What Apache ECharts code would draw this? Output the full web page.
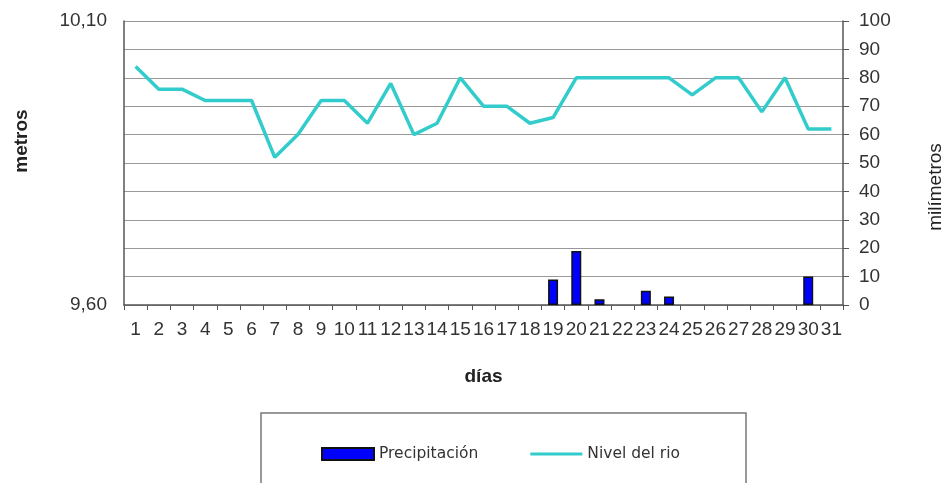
<!DOCTYPE html>
<html>
<head>
<meta charset="utf-8">
<script src="https://cdn.jsdelivr.net/npm/echarts@6/dist/echarts.min.js"></script>
<style>
  html, body { margin: 0; padding: 0; background: #fff; }
  #chart { width: 947px; height: 483px; }
</style>
</head>
<body>
<div id="chart"></div>
<script>
// días del mes
var dias = [];
for (var d = 1; d <= 31; d++) dias.push(String(d));

// nivel del rio (metros)
var nivel = [10.02, 9.98, 9.98, 9.96, 9.96, 9.96, 9.86, 9.90, 9.96, 9.96,
             9.92, 9.99, 9.90, 9.92, 10.00, 9.95, 9.95, 9.92, 9.93, 10.00,
             10.00, 10.00, 10.00, 10.00, 9.97, 10.00, 10.00, 9.94, 10.00, 9.91, 9.91];

// precipitación (milímetros)
var precipitacion = [0, 0, 0, 0, 0, 0, 0, 0, 0, 0,
                     0, 0, 0, 0, 0, 0, 0, 0, 9, 19,
                     2, 0, 5, 3, 0, 0, 0, 0, 0, 10, 0];

var chart = echarts.init(document.getElementById('chart'));

var labelFont = { fontFamily: 'Liberation Sans', fontSize: 19, color: '#333' };

var option = {
    animation: false,
    backgroundColor: '#fff',
    grid: { left: 124, right: 104, top: 21, bottom: 178 },
    legend: {
        left: 316,
        top: 441,
        itemWidth: 52,
        itemHeight: 12,
        itemGap: 52,
        textStyle: { fontFamily: 'DejaVu Sans', fontSize: 15.5, color: '#333' },
        data: [
            { name: 'Precipitación', icon: 'rect' },
            {
                name: 'Nivel del rio',
                // línea sola, sin símbolo
                icon: 'path://M0,0L0,0M0,12L0,12M0,4.5L52,4.5L52,7.5L0,7.5Z',
                itemStyle: { color: '#33cccc', borderWidth: 0 }
            }
        ]
    },
    graphic: [
        {
            type: 'rect',
            shape: { x: 261, y: 413, width: 485, height: 80 },
            style: { fill: 'none', stroke: '#777', lineWidth: 1.5 }
        },
        {
            type: 'text',
            x: 22, y: 141, rotation: Math.PI / 2,
            style: {
                text: 'metros', fontFamily: 'Liberation Sans', fontWeight: 'bold',
                fontSize: 19, fill: '#222', align: 'center', verticalAlign: 'middle'
            }
        },
        {
            type: 'text',
            x: 936, y: 187, rotation: Math.PI / 2,
            style: {
                text: 'milímetros', fontFamily: 'Liberation Sans',
                fontSize: 19, fill: '#222', align: 'center', verticalAlign: 'middle'
            }
        }
    ],
    xAxis: {
        type: 'category',
        data: dias,
        boundaryGap: true,
        name: 'días',
        nameLocation: 'middle',
        nameGap: 62,
        nameTextStyle: { fontFamily: 'Liberation Sans', fontWeight: 'bold', fontSize: 19, color: '#222' },
        axisLine: { lineStyle: { color: '#555', width: 1.5 } },
        axisTick: { show: true, length: 5, lineStyle: { color: '#555' } },
        axisLabel: Object.assign({ interval: 0, margin: 15 }, labelFont)
    },
    yAxis: [
        {
            type: 'value',
            min: 9.6,
            max: 10.1,
            interval: 0.05,
            position: 'left',
            axisLine: { show: true, lineStyle: { color: '#555', width: 1.5 } },
            axisTick: { show: false },
            splitLine: { show: false },
            axisLabel: Object.assign({
                margin: 17,
                formatter: function (v) {
                    if (Math.abs(v - 9.6) < 1e-6 || Math.abs(v - 10.1) < 1e-6) {
                        return v.toFixed(2).replace('.', ',');
                    }
                    return '';
                }
            }, labelFont)
        },
        {
            type: 'value',
            min: 0,
            max: 100,
            interval: 10,
            position: 'right',
            axisLine: { show: true, lineStyle: { color: '#555', width: 1.5 } },
            axisTick: { show: true, length: 6, lineStyle: { color: '#555' } },
            splitLine: { show: true, lineStyle: { color: '#999', width: 1.2 } },
            axisLabel: Object.assign({ margin: 16 }, labelFont)
        }
    ],
    series: [
        {
            name: 'Precipitación',
            type: 'bar',
            yAxisIndex: 1,
            // los días sin lluvia no dibujan barra
            data: precipitacion.map(function (v) { return v === 0 ? '-' : v; }),
            barWidth: 10,
            itemStyle: { color: '#0000ff', borderColor: '#111', borderWidth: 1.5 }
        },
        {
            name: 'Nivel del rio',
            type: 'line',
            yAxisIndex: 0,
            data: nivel,
            symbol: 'none',
            lineStyle: { color: '#33cccc', width: 3.5 },
            itemStyle: { color: '#33cccc' }
        }
    ]
};

chart.setOption(option);
</script>
</body>
</html>
